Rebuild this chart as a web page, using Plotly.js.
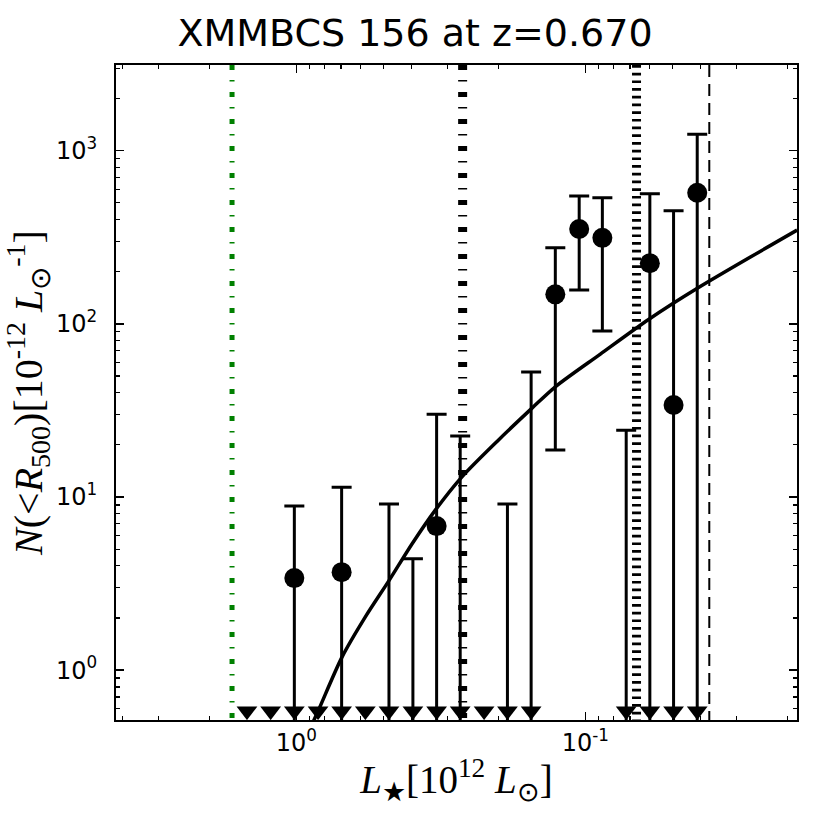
<!DOCTYPE html>
<html><head><meta charset="utf-8">
<script src="https://cdn.plot.ly/plotly-3.0.1.min.js"></script>
<style>html,body{margin:0;padding:0;background:#fff}#chart{width:830px;height:830px}</style>
</head><body><div id="chart"></div>
<script>
// Bin centres, L_star in 10^12 L_sun
const binL   = [1.482, 1.227, 1.016, 0.841, 0.697, 0.577, 0.478, 0.395, 0.327, 0.271,
                0.224, 0.186, 0.154, 0.127, 0.105, 0.0873, 0.0722, 0.0598, 0.0495, 0.0410];
// N(<R500) per bin (0 = empty bin)
const binN   = [0, 0, 3.40, 0, 3.68, 0, 0, 0, 6.79, 0,
                0, 0, 0, 148, 353, 314, 0, 224, 34.0, 572];
// upper end of error bar
const binNhi = [0, 0, 8.86, 0, 11.4, 0, 9.10, 4.40, 30.1, 22.5,
                0, 9.10, 52.7, 275, 547, 535, 24.3, 564, 450, 1244];
// lower end of error bar (0 = reaches zero, drawn as limit arrow)
const binNlo = [0, 0, 0, 0, 0, 0, 0, 0, 0, 0,
                0, 0, 0, 18.7, 157, 90.8, 0, 0, 0, 0];

// Fitted luminosity function curve
const curveL = [0.8946, 0.8325, 0.695, 0.577, 0.4768, 0.3969, 0.3304, 0.2672, 0.200,
                0.1529, 0.127, 0.0887, 0.0604, 0.0411, 0.0185];
const curveN = [0.462, 0.603, 1.189, 2.03, 3.31, 5.39, 8.40, 13.08, 21.3,
                32.6, 43.3, 66.9, 106, 160, 348];

// Vertical reference luminosities
const lineGreen   = 1.669;
const lineDashDot = 0.2658;
const lineDotted  = 0.0665;
const lineDashed  = 0.03724;

// where the limit arrows sit
const arrowFloor = 0.58;

const xTickVals = [1, 0.1];
const xTickText = ['10<sup>0</sup>', '10<sup>-1</sup>'];
const yTickVals = [1, 10, 100, 1000];
const yTickText = ['10<sup>0</sup>', '10<sup>1</sup>', '10<sup>2</sup>', '10<sup>3</sup>'];

const xRange = [0.624, -1.7325];
const yRange = [-0.288, 3.495];

function minorVals(lo, hi) {
  const out = [];
  for (let e = Math.floor(lo) - 1; e <= Math.ceil(hi) + 1; e++) {
    for (let d = 2; d <= 9; d++) out.push(d * Math.pow(10, e));
  }
  return out;
}

const withVal = binL.map((_, i) => i).filter(i => binN[i] > 0);
const noVal = binL.map((_, i) => i).filter(i => binN[i] <= 0 && binNhi[i] > 0);
const arrows = binL.map((_, i) => i).filter(i => binNlo[i] <= 0);

const yBot = Math.pow(10, yRange[0]);
const yTop = Math.pow(10, yRange[1]);

function vline(x, color, width, dash) {
  return {x: [x, x], y: [yTop, yBot], mode: 'lines', hoverinfo: 'skip',
          line: {color: color, width: width, dash: dash}, showlegend: false};
}

const traces = [
  vline(lineGreen, '#008000', 5, '5px,10px,1.5px,10.5px'),
  vline(lineDashDot, '#000000', 9, '5px,10px,1.5px,10.5px'),
  vline(lineDotted, '#000000', 9, '2.7px,5px'),
  vline(lineDashed, '#000000', 2, '12px,7px'),
  {
    x: curveL, y: curveN, mode: 'lines', line: {color: '#000', width: 3.5, shape: 'spline', smoothing: 0.8},
    showlegend: false, hoverinfo: 'skip'
  },
  {
    x: noVal.map(i => binL[i]), y: noVal.map(i => binNhi[i]), mode: 'markers',
    marker: {size: 1, color: 'rgba(0,0,0,0)'},
    error_y: {type: 'data', symmetric: false, array: noVal.map(() => 0),
              arrayminus: noVal.map(i => binNhi[i] - binNlo[i]), color: '#000', thickness: 3, width: 10},
    showlegend: false
  },
  {
    x: withVal.map(i => binL[i]), y: withVal.map(i => binN[i]), mode: 'markers',
    marker: {size: 20, color: '#000', line: {width: 0}},
    error_y: {type: 'data', symmetric: false, array: withVal.map(i => binNhi[i] - binN[i]),
              arrayminus: withVal.map(i => binN[i] - binNlo[i]), color: '#000', thickness: 3, width: 10},
    showlegend: false
  },
  {
    x: arrows.map(i => binL[i]), y: arrows.map(() => arrowFloor), mode: 'markers',
    marker: {symbol: 'triangle-down', size: 18, color: '#000', line: {width: 0}},
    showlegend: false
  }
];

const axisCommon = {
  type: 'log', showline: true, linecolor: '#000', linewidth: 2, mirror: 'allticks',
  ticks: 'inside', ticklen: 8, tickwidth: 1.5, tickcolor: '#000', showgrid: false, zeroline: false,
  tickfont: {family: 'DejaVu Sans', size: 24, color: '#000'},
  tickmode: 'array'
};

const layout = {
  width: 830, height: 830,
  paper_bgcolor: '#fff', plot_bgcolor: '#fff',
  margin: {l: 116, r: 33, t: 65, b: 110},
  showlegend: false,
  title: {text: 'XMMBCS 156 at z=0.670', font: {family: 'DejaVu Sans', size: 38, color: '#000'},
          xref: 'container', x: 0.5, xanchor: 'center', yref: 'container', y: 0.961, yanchor: 'middle'},
  xaxis: Object.assign({}, axisCommon, {
    range: xRange, tickvals: xTickVals, ticktext: xTickText,
    minor: {tickmode: 'array', tickvals: minorVals(-2, 1), ticks: 'inside', ticklen: 4, tickwidth: 1.2, tickcolor: '#000', showgrid: false},
    title: {text: '<i>L</i><sub>★</sub>[10<sup>12</sup> <i>L</i><sub>⊙</sub>]', font: {family: 'Liberation Serif', size: 39, color: '#000'}, standoff: 10}
  }),
  yaxis: Object.assign({}, axisCommon, {
    range: yRange, tickvals: yTickVals, ticktext: yTickText, ticklabelstandoff: 12,
    minor: {tickmode: 'array', tickvals: minorVals(-1, 4), ticks: 'inside', ticklen: 4, tickwidth: 1.2, tickcolor: '#000', showgrid: false},
    title: {text: '<i>N</i>(&lt;<i>R</i><sub>500</sub>)[10<sup>-12</sup> <i>L</i><sub>⊙</sub><sup>-1</sup>]', font: {family: 'Liberation Serif', size: 40, color: '#000'}, standoff: 0}
  })
};

Plotly.newPlot('chart', traces, layout, {displayModeBar: false, staticPlot: true});
</script>
</body></html>
